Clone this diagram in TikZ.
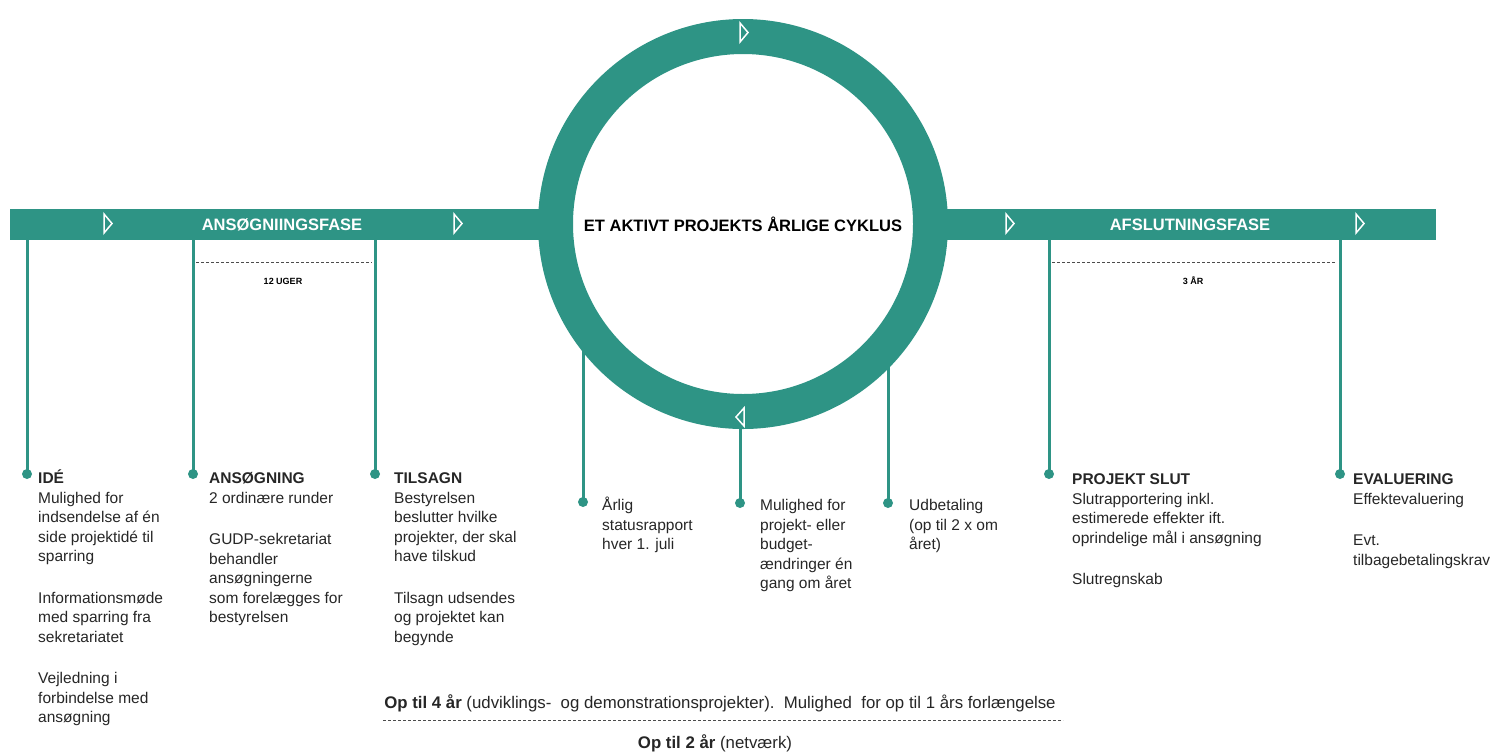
\documentclass[tikz,border=0pt]{standalone}
\usepackage{fontspec}
\setmainfont{Liberation Sans}
\usetikzlibrary{positioning}
\definecolor{gudp}{RGB}{46,148,133}
\newcommand\bodyfont{\fontsize{15.5}{19.5}\selectfont}
\newcommand\headfont{\bfseries\fontsize{16.5}{20}\selectfont}

\begin{document}
\begin{tikzpicture}[x=1pt,y=-1pt,
  band/.style={fill=gudp, minimum width=1426, minimum height=31, inner sep=0},
  stem/.style={gudp, line width=3pt},
  dot/.style={circle, fill=gudp, minimum size=10pt, inner sep=0},
  ringnode/.style={circle, draw=gudp, fill=white, line width=35pt, minimum size=375pt, inner sep=0, font=\headfont},
  phase/.style={text=white, font=\headfont, inner sep=0},
  txt/.style={anchor=north west, align=left, inner sep=0, font=\bodyfont, text=black!85},
  tri/.style={white, line width=1.5pt, line join=miter},
  span/.style={black!70, line width=0.8pt, dash pattern=on 3pt off 2pt},
  small/.style={font=\bfseries\fontsize{9}{11}\selectfont, inner sep=0},
  lengthtxt/.style={font=\fontsize{16.8}{20}\selectfont, text=black!85, inner sep=0}]
\useasboundingbox (0,0) rectangle (1496,753);

% the band through the phases
\node[band] (band) at (723,224.5) {};

% dots under the band and the ring
\node[dot] (ide) at (27,474) {};
\node[dot] (soeg) at (193,474) {};
\node[dot] (tilsagn) at (375,474) {};
\node[dot] (status) at (583,502) {};
\node[dot] (aendr) at (740,503) {};
\node[dot] (udbet) at (888,503) {};
\node[dot] (slut) at (1049,474) {};
\node[dot] (evalu) at (1340,474) {};

\draw[stem] (ide.center) -- (ide |- band.south);
\draw[stem] (soeg.center) -- (soeg |- band.south);
\draw[stem] (tilsagn.center) -- (tilsagn |- band.south);
\draw[stem] (slut.center) -- (slut |- band.south);
\draw[stem] (evalu.center) -- (evalu |- band.south);
\draw[stem] (status.center) -- (status |- band.center);
\draw[stem] (aendr.center) -- (aendr |- band.center);
\draw[stem] (udbet.center) -- (udbet |- band.center);

% the yearly cycle
\node[ringnode] (cycle) at (743,224) {ET AKTIVT PROJEKTS ÅRLIGE CYKLUS};

\node[phase] (ansfase) at (282,224.5) {ANSØGNIINGSFASE};
\node[phase] (afsfase) at (1190,224.5) {AFSLUTNINGSFASE};

% direction marks
\draw[tri] (104,214) -- ++(8,9.5) -- ++(-8,9.5) -- cycle;
\draw[tri] (454,214) -- ++(8,9.5) -- ++(-8,9.5) -- cycle;
\draw[tri] (1006,214) -- ++(8,9.5) -- ++(-8,9.5) -- cycle;
\draw[tri] (1356,214) -- ++(8,9.5) -- ++(-8,9.5) -- cycle;
\draw[tri] (740,23) -- ++(8,9.5) -- ++(-8,9.5) -- cycle;
\draw[tri] (744,408) -- ++(-8,9) -- ++(8,9) -- cycle;

% durations
\draw[span] (196,262) -- (372,262);
\node[small] (uger) at (283,281) {12 UGER};
\draw[span] (1052,262) -- (1336,262);
\node[small] (aar) at (1193,281) {3 ÅR};

% texts
\node[txt] (idetxt) at (38,470) {\strut\textbf{IDÉ}\\ Mulighed for\\ indsendelse af én\\ side projektidé til\\ sparring\\[22pt] Informationsmøde\\ med sparring fra\\ sekretariatet\\[22pt] Vejledning i\\ forbindelse med\\ ansøgning};
\node[txt] (soegtxt) at (209,470) {\strut\textbf{ANSØGNING}\\ 2 ordinære runder\\[22pt] GUDP-sekretariat\\ behandler\\ ansøgningerne\\ som forelægges for\\ bestyrelsen};
\node[txt] (tilsagntxt) at (394,470) {\strut\textbf{TILSAGN}\\ Bestyrelsen\\ beslutter hvilke\\ projekter, der skal\\ have tilskud\\[22pt] Tilsagn udsendes\\ og projektet kan\\ begynde};
\node[txt] (statustxt) at (602,497) {\strut Årlig\\ statusrapport\\ hver 1. juli};
\node[txt] (aendrtxt) at (760,497) {\strut Mulighed for\\ projekt- eller\\ budget-\\ ændringer én\\ gang om året};
\node[txt] (udbettxt) at (909,497) {\strut Udbetaling\\ (op til 2 x om\\ året)};
\node[txt] (sluttxt) at (1072,471) {\strut\textbf{PROJEKT SLUT}\\ Slutrapportering inkl.\\ estimerede effekter ift.\\ oprindelige mål i ansøgning\\[22pt] Slutregnskab};
\node[txt] (evalutxt) at (1353,471) {\strut\textbf{EVALUERING}\\ Effektevaluering\\[22pt] Evt.\\ tilbagebetalingskrav};

% project length
\node[lengthtxt] (fire) at (720,703) {\textbf{Op til 4 år} (udviklings-\ \ og demonstrationsprojekter).\ \ Mulighed\ \ for op til 1 års forlængelse};
\draw[span] (383,720) -- (1063,720);
\node[lengthtxt] (to) at (715,743) {\textbf{Op til 2 år} (netværk)};
\end{tikzpicture}
\end{document}
